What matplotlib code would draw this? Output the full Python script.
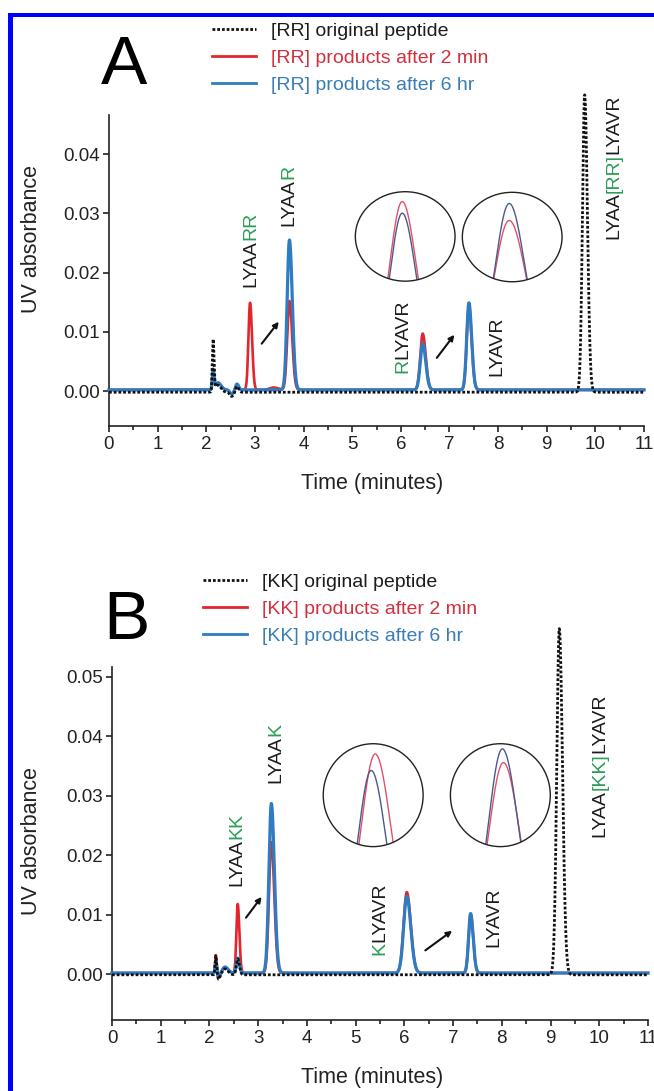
import numpy as np
import matplotlib
matplotlib.use("Agg")
import matplotlib.pyplot as plt
from matplotlib.patches import Circle, Rectangle

plt.rcParams['font.family'] = ['Liberation Sans', 'DejaVu Sans']

W, H, DPI = 654, 1091, 100

# ---------------------------------------------------------------- data
# Peak tables: retention time (min), peak height (AU), peak sigma (min)
# Panel A: [RR] peptide
A_orig_rt = [2.14, 2.24, 2.52, 2.63, 9.78]
A_orig_h = [0.0088, 0.0012, -0.0007, 0.0010, 0.0502]
A_orig_w = [0.016, 0.05, 0.035, 0.028, 0.045]
A_orig_base = -0.0002

A_2min_rt = [2.14, 2.24, 2.52, 2.63, 2.90, 3.38, 3.71, 6.45, 7.40]
A_2min_h = [0.0034, 0.0012, -0.0007, 0.0010, 0.0147, 0.0004, 0.0150, 0.0095, 0.0140]
A_2min_w = [0.016, 0.05, 0.035, 0.028, 0.033, 0.08, 0.045, 0.05, 0.045]
A_2min_base = 0.0002

A_6hr_rt = [2.14, 2.24, 2.52, 2.63, 3.71, 6.45, 7.40]
A_6hr_h = [0.0032, 0.0012, -0.0007, 0.0010, 0.0253, 0.0078, 0.0147]
A_6hr_w = [0.016, 0.05, 0.035, 0.028, 0.047, 0.05, 0.045]
A_6hr_base = 0.0002

# Panel B: [KK] peptide
B_orig_rt = [2.13, 2.19, 2.32, 2.58, 9.18]
B_orig_h = [0.0032, -0.0008, 0.0010, 0.0027, 0.0582]
B_orig_w = [0.014, 0.02, 0.05, 0.028, 0.052]
B_orig_base = -0.0001

B_2min_rt = [2.13, 2.19, 2.32, 2.58, 3.27, 6.05, 7.36]
B_2min_h = [0.0030, -0.0008, 0.0010, 0.0116, 0.0220, 0.0136, 0.0098]
B_2min_w = [0.014, 0.02, 0.05, 0.027, 0.048, 0.065, 0.042]
B_2min_base = 0.0002

B_6hr_rt = [2.13, 2.19, 2.32, 2.58, 3.27, 6.05, 7.36]
B_6hr_h = [0.0020, -0.0008, 0.0010, 0.0025, 0.0285, 0.0129, 0.0100]
B_6hr_w = [0.014, 0.02, 0.05, 0.028, 0.05, 0.065, 0.042]
B_6hr_base = 0.0002

TAIL = 1.25  # right-hand peak tailing

x_ticks = list(range(0, 12))
A_y_ticks = [0.00, 0.01, 0.02, 0.03, 0.04]
B_y_ticks = [0.00, 0.01, 0.02, 0.03, 0.04, 0.05]

A_legend = ['[RR] original peptide', '[RR] products after 2 min', '[RR] products after 6 hr']
B_legend = ['[KK] original peptide', '[KK] products after 2 min', '[KK] products after 6 hr']

# peak labels: (time, absorbance at label foot, [(text, colour key), ...])
A_labels = [
    (2.92, 0.0176, [('LYAA', 'k'), ('RR', 'g')]),
    (3.70, 0.0278, [('LYAA', 'k'), ('R', 'g')]),
    (6.04, 0.0031, [('R', 'g'), ('LYAVR', 'k')]),
    (7.97, 0.0025, [('LYAVR', 'k')]),
    (10.38, 0.0256, [('LYAA', 'k'), ('[RR]', 'g'), ('LYAVR', 'k')]),
]
B_labels = [
    (2.56, 0.0148, [('LYAA', 'k'), ('KK', 'g')]),
    (3.37, 0.0321, [('LYAA', 'k'), ('K', 'g')]),
    (5.50, 0.0032, [('K', 'g'), ('LYAVR', 'k')]),
    (7.84, 0.0046, [('LYAVR', 'k')]),
    (10.02, 0.0231, [('LYAA', 'k'), ('[KK]', 'g'), ('LYAVR', 'k')]),
]

# conversion arrows (start time, start AU, end time, end AU)
A_arrows = [(3.14, 0.0080, 3.49, 0.0117), (6.74, 0.0056, 7.10, 0.0095)]
B_arrows = [(2.75, 0.0095, 3.07, 0.0130), (6.43, 0.0040, 6.98, 0.0073)]

# magnified apex views: centre (min, AU), size (min, AU)
A_zoom_t = [6.09, 8.29]
A_zoom_y = [0.0261, 0.0260]
A_zoom_size = (2.05, 0.0151)
A_zoom_red_apex = [1.000, 0.885]
A_zoom_blue_apex = [0.927, 0.992]
A_zoom_red_pos = [-0.03, -0.03]
A_zoom_blue_pos = [-0.03, -0.03]
A_zoom_red_sig = [0.125, 0.15]
A_zoom_blue_sig = [0.12, 0.14]

B_zoom_t = [5.36, 7.97]
B_zoom_y = [0.0301, 0.0301]
B_zoom_size = (2.05, 0.0173)
B_zoom_red_apex = [1.006, 0.959]
B_zoom_blue_apex = [0.916, 1.034]
B_zoom_red_pos = [0.02, 0.03]
B_zoom_blue_pos = [-0.02, 0.02]
B_zoom_red_sig = [0.14, 0.145]
B_zoom_blue_sig = [0.13, 0.14]

# ---------------------------------------------------------------- style
RED = '#e3262d'
BLUE = '#2f7cc2'
BLACK = '#111111'
GREEN = '#2a9d55'
RED_TXT = '#d3303f'
BLUE_TXT = '#3a7db6'
TXT = '#1c1c1c'
COLORS = {'k': TXT, 'g': GREEN}
DOTS = (0, (1.0, 0.7))

t = np.linspace(0, 11, 4401)


def trace(rts, hs, ws, base):
    y = np.full_like(t, base)
    for rt, h, w in zip(rts, hs, ws):
        s = np.where(t < rt, w, w * TAIL)
        y = y + h * np.exp(-0.5 * ((t - rt) / s) ** 2)
    return y


fig = plt.figure(figsize=(W / DPI, H / DPI), dpi=DPI)
fig.patch.set_facecolor('white')


def px_axes(left, top, right, bottom):
    return fig.add_axes([left / W, 1 - bottom / H, (right - left) / W, (bottom - top) / H])


def stacked_label(ax, x, y, parts, size=14):
    prev = None
    for text, key in parts:
        if prev is None:
            prev = ax.text(x, y, text, rotation=90, ha='center', va='bottom',
                           color=COLORS[key], fontsize=size)
        else:
            prev = ax.annotate(text, xy=(0.5, 1.0), xycoords=prev, rotation=90,
                               ha='center', va='bottom', color=COLORS[key], fontsize=size)


def apex_view(ax, ct, cy, size, red_apex, blue_apex, red_pos, blue_pos, red_sig, blue_sig):
    iax = ax.inset_axes([ct - size[0] / 2, cy - size[1] / 2, size[0], size[1]],
                        transform=ax.transData)
    iax.set_xlim(-0.5, 0.5)
    iax.set_ylim(0.5, 1.062)
    iax.axis('off')
    iax.patch.set_alpha(0)
    ring = Circle((0.5, 0.5), 0.5, transform=iax.transAxes, fill=False,
                  edgecolor='#222222', lw=1.0, clip_on=False, zorder=5)
    iax.add_patch(ring)
    u = np.linspace(-0.5, 0.5, 400)
    for apex, pos, sig, col in [(red_apex, red_pos, red_sig, '#e0506a'),
                                (blue_apex, blue_pos, blue_sig, '#4a5a8e')]:
        s = np.where(u < pos, sig, sig * 1.12)
        ln, = iax.plot(u, apex * np.exp(-0.5 * ((u - pos) / s) ** 2), color=col, lw=1.0)
        ln.set_clip_path(ring)


def panel(box, ylim, yticks, series, legend_labels, legend_anchor, labels, arrows,
          zooms, letter, letter_xy, ylabel_xy, xlabel_xy):
    ax = px_axes(*box)
    handles = []
    for (rts, hs, ws, base), col, ls, lw, z in zip(
            series, [BLACK, RED, BLUE], [DOTS, '-', '-'], [2.0, 1.9, 2.3], [4, 2, 3]):
        ln, = ax.plot(t, trace(rts, hs, ws, base), color=col, ls=ls, lw=lw, zorder=z,
                      clip_on=False)
        handles.append(ln)
    ax.set_xlim(0, 11)
    ax.set_ylim(*ylim)
    ax.set_xticks(x_ticks)
    ax.set_xticks(np.arange(0.5, 11, 1.0), minor=True)
    ax.set_yticks(yticks)
    ax.set_yticklabels([f'{v:.2f}' for v in yticks])
    for side in ('top', 'right'):
        ax.spines[side].set_visible(False)
    for side in ('left', 'bottom'):
        ax.spines[side].set_linewidth(1.2)
        ax.spines[side].set_color('#222222')
    ax.tick_params(axis='both', which='major', direction='out', length=4.5, width=1.2,
                   color='#222222', labelsize=13.5, labelcolor='#222222', pad=2)
    ax.tick_params(axis='x', which='minor', direction='out', length=3, width=1.2,
                   color='#222222')
    ax.tick_params(axis='x', which='major', pad=3)

    leg = ax.legend(handles, legend_labels, loc='upper left',
                    bbox_to_anchor=(legend_anchor[0] / W, 1 - legend_anchor[1] / H),
                    bbox_transform=fig.transFigure, frameon=False, fontsize=14,
                    handlelength=2.25, handletextpad=0.8, labelspacing=0.5,
                    borderpad=0, borderaxespad=0,
                    labelcolor=[TXT, RED_TXT, BLUE_TXT])
    for lh in leg.get_lines():
        lh.set_linewidth(2.0)

    for x, y, parts in labels:
        stacked_label(ax, x, y, parts)

    for x0, y0, x1, y1 in arrows:
        ax.annotate('', xy=(x1, y1), xytext=(x0, y0),
                    arrowprops=dict(arrowstyle='-|>', color=BLACK, lw=1.5,
                                    mutation_scale=8, shrinkA=0, shrinkB=0))

    for args in zooms:
        apex_view(ax, *args)

    fig.text(letter_xy[0] / W, 1 - letter_xy[1] / H, letter, fontsize=50,
             ha='center', va='center', color='black')
    fig.text(ylabel_xy[0] / W, 1 - ylabel_xy[1] / H, 'UV absorbance', rotation=90,
             fontsize=15.5, ha='center', va='center', color='#222222')
    fig.text(xlabel_xy[0] / W, 1 - xlabel_xy[1] / H, 'Time (minutes)',
             fontsize=15.5, ha='center', va='center', color='#222222')
    return ax


def zoom_args(ts, ys, size, ra, ba, rp, bp, rs, bs):
    return [(ts[i], ys[i], size, ra[i], ba[i], rp[i], bp[i], rs[i], bs[i])
            for i in range(len(ts))]


panel((109, 115, 644, 426), (-0.0059, 0.0466), A_y_ticks,
      [(A_orig_rt, A_orig_h, A_orig_w, A_orig_base),
       (A_2min_rt, A_2min_h, A_2min_w, A_2min_base),
       (A_6hr_rt, A_6hr_h, A_6hr_w, A_6hr_base)],
      A_legend, (212, 22), A_labels, A_arrows,
      zoom_args(A_zoom_t, A_zoom_y, A_zoom_size, A_zoom_red_apex, A_zoom_blue_apex,
                A_zoom_red_pos, A_zoom_blue_pos, A_zoom_red_sig, A_zoom_blue_sig),
      'A', (124, 66), (32, 239), (372, 483))

panel((112, 666.7, 648, 1020), (-0.0077, 0.0517), B_y_ticks,
      [(B_orig_rt, B_orig_h, B_orig_w, B_orig_base),
       (B_2min_rt, B_2min_h, B_2min_w, B_2min_base),
       (B_6hr_rt, B_6hr_h, B_6hr_w, B_6hr_base)],
      B_legend, (203, 573), B_labels, B_arrows,
      zoom_args(B_zoom_t, B_zoom_y, B_zoom_size, B_zoom_red_apex, B_zoom_blue_apex,
                B_zoom_red_pos, B_zoom_blue_pos, B_zoom_red_sig, B_zoom_blue_sig),
      'B', (126, 621), (32, 841), (372, 1077))

# blue page frame (left and top edges)
fig.patches.append(Rectangle((8 / W, 0), 5 / W, 1 - 13 / H, transform=fig.transFigure,
                             facecolor='#0000ff', edgecolor='none', zorder=10))
fig.patches.append(Rectangle((8 / W, 1 - 17 / H), 1 - 8 / W, 4 / H, transform=fig.transFigure,
                             facecolor='#0000ff', edgecolor='none', zorder=10))

fig.savefig('out.png', dpi=DPI, facecolor='white')
